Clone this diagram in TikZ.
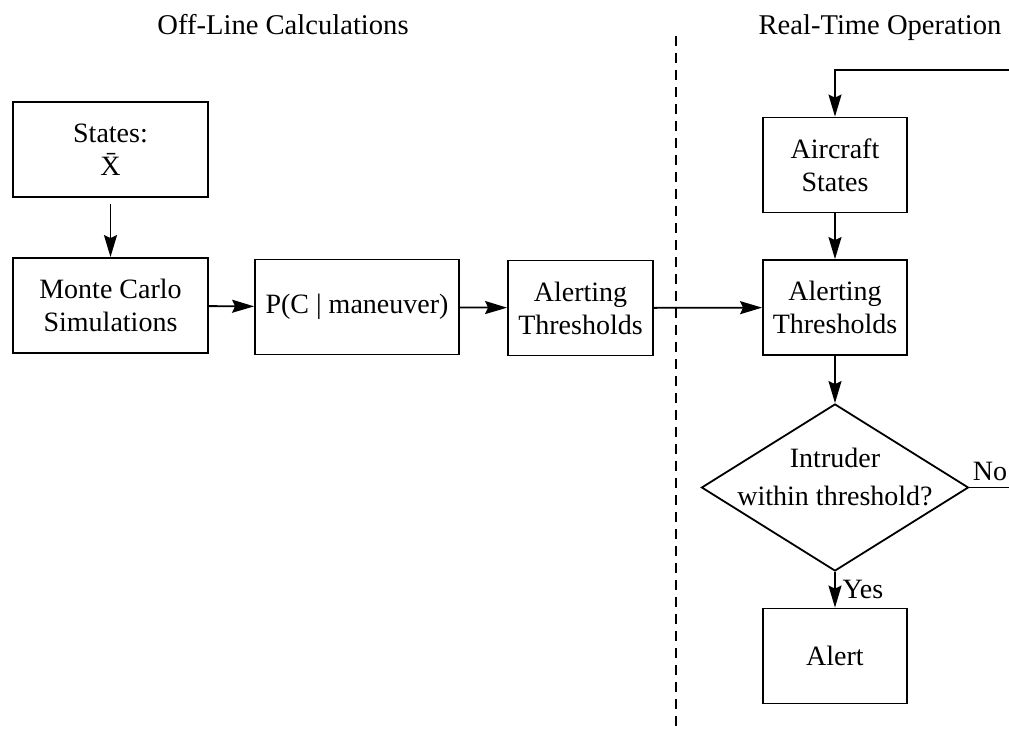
\documentclass[tikz,border=0pt]{standalone}
\usepackage{fontspec}
\setmainfont{Liberation Serif}
\usetikzlibrary{arrows.meta,positioning,shapes.geometric}

\begin{document}
\begin{tikzpicture}[x=0.5pt, y=-0.5pt,
  box/.style={draw, line width=0.9pt, minimum height=47.5pt, align=center, inner sep=2pt, font=\fontsize{14}{16.5}\selectfont},
  decision/.style={draw, diamond, line width=0.9pt, minimum width=133.5pt, minimum height=83.5pt, inner sep=0pt},
  arrow/.style={-{Stealth[length=11pt, width=6.5pt, inset=1.5pt]}, line width=0.9pt},
  title/.style={anchor=base, font=\fontsize{14.3}{17}\selectfont}
]
\useasboundingbox (0,0) rectangle (1009,733);

% section titles and divider
\node[title] (offline) at (283,35) {Off-Line Calculations};
\node[title] (realtime) at (880,35) {Real-Time Operation};
\coordinate (divtop) at (676,36);
\coordinate (divbot) at (676,733);
\draw[line width=0.7pt, dash pattern=on 5pt off 3.5pt] (divtop) -- (divbot);

% off-line part
\node[box, minimum width=97.5pt] (states) at (110.5,149.5) {States:\\\={X}};
\node[box, minimum width=97.5pt] (monte) at (110.5,305.5) {Monte Carlo\\Simulations};
\node[box, minimum width=102pt] (prob) at (357,307) {P(C | maneuver)};
\node[box, minimum width=72.5pt] (alertoff) at (580.5,308) {Alerting\\Thresholds};

% real-time part
\node[box, minimum width=72pt] (aircraft) at (835,165) {Aircraft\\States};
\node[box, minimum width=72pt] (alerton) at (835,307.5) {Alerting\\Thresholds};
\node[decision] (check) at (835,487.5) {};
\node[font=\fontsize{14}{19}\selectfont, align=center] (checktext) at (835,477) {Intruder\\within threshold?};
\node[box, minimum width=72pt] (alert) at (835,656) {Alert};
\coordinate (loop) at (1015,70);

\draw[arrow, shorten <=3pt] (states) -- (monte);
\draw[arrow] (monte) -- (prob);
\draw[arrow] (prob) -- (alertoff);
\draw[arrow] (alertoff) -- (alerton);
\draw[arrow] (aircraft) -- (alerton);
\draw[arrow] (alerton) -- (check);
\draw[arrow] (check) -- node[right, pos=0.5, font=\fontsize{14}{16}\selectfont]{Yes} (alert);
\draw[arrow] (check.east) -| (loop) -| (aircraft.north);
\node[font=\fontsize{14}{16}\selectfont, anchor=south west, inner sep=1pt] (no) at ([xshift=0.5pt, yshift=2pt]check.east) {No};
\end{tikzpicture}
\end{document}
